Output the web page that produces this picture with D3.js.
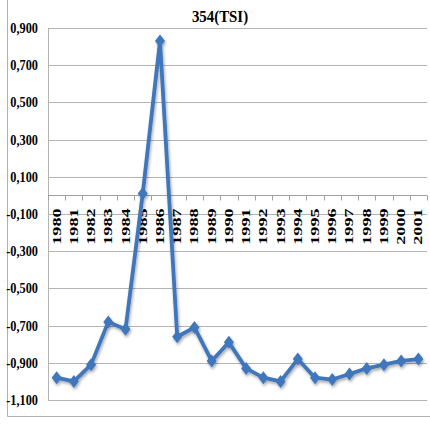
<!DOCTYPE html>
<html>
<head>
<meta charset="utf-8">
<script src="https://cdn.jsdelivr.net/npm/d3@7"></script>
<style>
  body { margin: 0; background: #fff; }
  svg text { font-family: "Liberation Serif", "DejaVu Serif", "Times New Roman", serif; }
</style>
</head>
<body>
<div id="chart"></div>
<script>
// data
const years = ["1980","1981","1982","1983","1984","1985","1986","1987","1988","1989","1990",
               "1991","1992","1993","1994","1995","1996","1997","1998","1999","2000","2001"];
const tsi = [-0.98, -1.00, -0.91, -0.68, -0.72, 0.01, 0.83, -0.76, -0.71, -0.89, -0.79,
             -0.93, -0.98, -1.00, -0.88, -0.98, -0.99, -0.96, -0.93, -0.91, -0.89, -0.88];
const yTicks = [0.9, 0.7, 0.5, 0.3, 0.1, -0.1, -0.3, -0.5, -0.7, -0.9, -1.1];
const title = "354(TSI)";

const width = 430;
const height = 428;
const margin = {top: 28, right: 3, bottom: 28, left: 48};

const svg = d3.select("#chart")
    .append("svg")
    .attr("width", width)
    .attr("height", height)
    .style("display", "block");

// soft shadow under the line like the office chart
const defs = svg.append("defs");
defs.append("filter")
    .attr("id", "shadow")
    .attr("x", "-20%").attr("y", "-20%")
    .attr("width", "140%").attr("height", "140%")
  .append("feDropShadow")
    .attr("dx", 1).attr("dy", 2)
    .attr("stdDeviation", 1.5)
    .attr("flood-color", "#000")
    .attr("flood-opacity", 0.35);

// outer frame (left and bottom edges visible)
svg.append("line")
    .attr("x1", 7.5).attr("x2", 7.5)
    .attr("y1", 0).attr("y2", 416.5)
    .attr("stroke", "#b0b0b0");
svg.append("line")
    .attr("x1", 7.5).attr("x2", width)
    .attr("y1", 416.5).attr("y2", 416.5)
    .attr("stroke", "#b0b0b0");

// band scale for years
const x = d3.scaleBand()
    .domain(years)
    .range([margin.left, width - margin.right])
    .padding(0);

// value scale
const y = d3.scaleLinear()
    .domain([-1.1, 0.9])
    .range([height - margin.bottom, margin.top]);

// gridlines
svg.append("g")
    .selectAll("line")
    .data(yTicks)
    .enter()
    .append("line")
    .attr("x1", margin.left)
    .attr("x2", width - margin.right)
    .attr("y1", d => Math.round(y(d)) + 0.5)
    .attr("y2", d => Math.round(y(d)) + 0.5)
    .attr("stroke", "#b4b4b4")
    .attr("stroke-width", 1);

// y axis line
svg.append("line")
    .attr("x1", margin.left + 0.5).attr("x2", margin.left + 0.5)
    .attr("y1", y(0.9)).attr("y2", y(-1.1))
    .attr("stroke", "#b4b4b4");

// y tick labels
svg.append("g")
    .selectAll("text")
    .data(yTicks)
    .enter()
    .append("text")
    .attr("transform", d => `translate(38,${y(d) + 5}) scale(0.88,1)`)
    .attr("text-anchor", "end")
    .style("font-size", "14px")
    .style("font-weight", "bold")
    .text(d => d3.format(".3f")(d).replace("−", "-").replace(".", ","));

// x axis at zero with ticks between categories
const y0 = Math.round(y(0)) + 0.5;
svg.append("line")
    .attr("x1", margin.left).attr("x2", width - margin.right)
    .attr("y1", y0).attr("y2", y0)
    .attr("stroke", "#a0a0a0");

svg.append("g")
    .selectAll("line")
    .data(years.concat(["end"]))
    .enter()
    .append("line")
    .attr("x1", (d, i) => Math.round(margin.left + i * x.step()) + 0.5)
    .attr("x2", (d, i) => Math.round(margin.left + i * x.step()) + 0.5)
    .attr("y1", y0)
    .attr("y2", y0 + 5)
    .attr("stroke", "#a0a0a0");

// rotated year labels
svg.append("g")
    .selectAll("text")
    .data(years)
    .enter()
    .append("text")
    .attr("transform", d => `translate(${x(d) + x.bandwidth() / 2 + 4},${y0 + 13}) rotate(-90) scale(1.45,1)`)
    .attr("text-anchor", "end")
    .style("font-size", "12.5px")
    .style("font-weight", "bold")
    .text(d => d);

// the series line
const line = d3.line()
    .x((d, i) => x(years[i]) + x.bandwidth() / 2)
    .y(d => y(d));

const series = svg.append("g").attr("filter", "url(#shadow)");

series.append("path")
    .datum(tsi)
    .attr("fill", "none")
    .attr("stroke", "#3f76bb")
    .attr("stroke-width", 3.8)
    .attr("stroke-linejoin", "round")
    .attr("d", line);

// diamond markers
series.selectAll("path.marker")
    .data(tsi)
    .enter()
    .append("path")
    .attr("class", "marker")
    .attr("d", "M0,-6.5 L5,0 L0,6.5 L-5,0 Z")
    .attr("transform", (d, i) => `translate(${x(years[i]) + x.bandwidth() / 2},${y(d)})`)
    .attr("fill", "#3f76bb");

// chart title
svg.append("text")
    .attr("transform", `translate(220,22) scale(0.93,1)`)
    .attr("text-anchor", "middle")
    .style("font-size", "16px")
    .style("font-weight", "bold")
    .text(title);
</script>
</body>
</html>
